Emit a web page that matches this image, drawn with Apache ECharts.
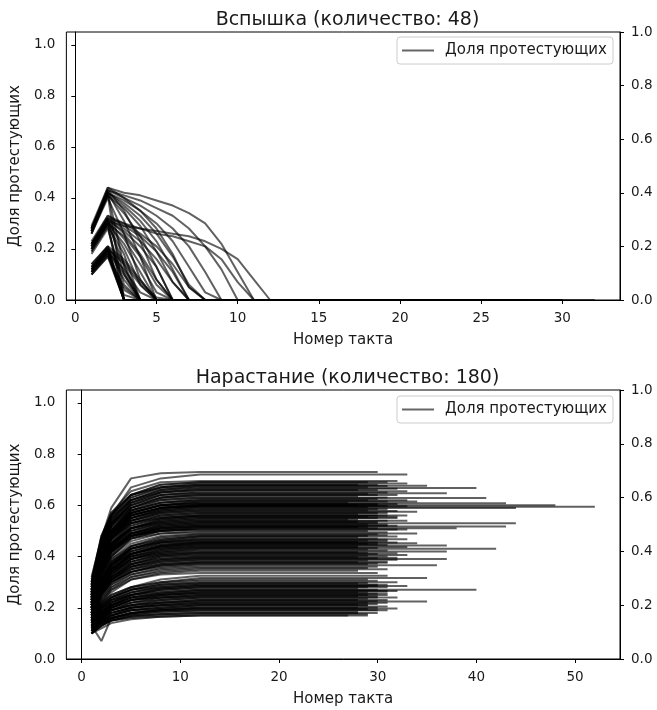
<!DOCTYPE html>
<html><head><meta charset="utf-8">
<script src="https://cdn.jsdelivr.net/npm/echarts@6/dist/echarts.min.js"></script>
<style>html,body{margin:0;padding:0;background:#fff}#c{width:657px;height:710px}</style>
</head><body><div id="c"></div>
<script>
const FONT = 'DejaVu Sans';
const seriesName = 'Доля протестующих';
const titleOutbreak = 'Вспышка (количество: 48)';
const titleGrowth = 'Нарастание (количество: 180)';
const xAxisName = 'Номер такта';
const yAxisName = 'Доля протестующих';
const yTicks = [0, 0.2, 0.4, 0.6, 0.8, 1.0];
const outbreakXTicks = [0, 5, 10, 15, 20, 25, 30];
const growthXTicks = [0, 10, 20, 30, 40, 50];

// Outbreak runs: share of protesters at steps 1,2,3,... until it reaches 0
const outbreakRuns = [
  [0.28,0.44,0.42,0.41,0.39,0.37,0.34,0.30,0.22,0.11,0],
  [0.28,0.43,0.41,0.39,0.36,0.33,0.28,0.21,0.12,0],
  [0.27,0.43,0.40,0.37,0.33,0.28,0.21,0.11,0],
  [0.28,0.42,0.39,0.35,0.30,0.23,0.13,0.03,0],
  [0.27,0.42,0.38,0.33,0.26,0.17,0.06,0],
  [0.26,0.42,0.37,0.31,0.23,0.12,0],
  [0.27,0.41,0.36,0.29,0.19,0.07,0],
  [0.26,0.41,0.34,0.25,0.13,0],
  [0.28,0.43,0.35,0.23,0.08,0],
  [0.27,0.42,0.31,0.17,0],
  [0.26,0.40,0.26,0.08,0],
  [0.28,0.42,0.13,0],
  [0.27,0.41,0],
  [0.29,0.44,0.40,0.35,0.28,0.18,0.05,0],
  [0.21,0.31,0.29,0.28,0.27,0.26,0.25,0.23,0.20,0.16,0.08,0],
  [0.22,0.32,0.30,0.28,0.26,0.25,0.23,0.21,0.16,0.07,0],
  [0.22,0.33,0.30,0.26,0.21,0.14,0.05,0],
  [0.21,0.32,0.28,0.23,0.16,0.07,0],
  [0.20,0.31,0.27,0.21,0.13,0],
  [0.21,0.32,0.26,0.18,0.08,0],
  [0.22,0.31,0.24,0.14,0.03,0],
  [0.20,0.30,0.22,0.11,0],
  [0.21,0.31,0.20,0.06,0],
  [0.19,0.29,0.18,0],
  [0.20,0.30,0.14,0],
  [0.22,0.32,0.10,0],
  [0.19,0.29,0],
  [0.21,0.30,0],
  [0.18,0.28,0.06,0],
  [0.23,0.33,0.29,0.25,0.19,0.11,0],
  [0.20,0.30,0.25,0.17,0.06,0],
  [0.12,0.20,0.14,0.06,0],
  [0.11,0.19,0.10,0],
  [0.13,0.20,0.08,0],
  [0.12,0.19,0.04,0],
  [0.10,0.18,0],
  [0.11,0.18,0],
  [0.12,0.19,0],
  [0.13,0.20,0],
  [0.14,0.21,0],
  [0.10,0.17,0],
  [0.11,0.19,0.12,0.03,0],
  [0.13,0.21,0.16,0.08,0],
  [0.12,0.20,0],
  [0.14,0.21,0.11,0],
  [0.11,0.18,0.02,0],
  [0.12,0.20,0.15,0.07,0.01,0],
  [0.10,0.17,0.05,0]
];
// last step of each outbreak run
const outbreakEnds = [28,24,30,22,26,19,27,21,25,18,23,16,20,29,32,27,25,22,28,17,24,20,26,15,21,19,14,23,18,30,22,
  20,16,25,13,12,18,22,15,27,11,19,24,17,21,14,26,13];

// Growth runs: share at steps listed in growthSteps; then flat until the last step
const growthSteps = [1, 2, 3, 5, 8, 12];
const growthRuns = [
  [0.32,0.47,0.59,0.705,0.725,0.73],
  [0.29,0.45,0.56,0.67,0.705,0.72],
  [0.30,0.47,0.57,0.655,0.69,0.695],
  [0.30,0.48,0.57,0.64,0.68,0.69],
  [0.27,0.46,0.56,0.64,0.68,0.69],
  [0.29,0.47,0.56,0.64,0.67,0.685],
  [0.26,0.45,0.55,0.63,0.67,0.68],
  [0.31,0.48,0.56,0.64,0.67,0.68],
  [0.28,0.46,0.55,0.63,0.665,0.676],
  [0.25,0.44,0.54,0.62,0.66,0.675],
  [0.27,0.45,0.54,0.62,0.66,0.67],
  [0.29,0.46,0.55,0.62,0.655,0.667],
  [0.24,0.43,0.53,0.61,0.65,0.665],
  [0.26,0.44,0.53,0.61,0.65,0.66],
  [0.30,0.46,0.54,0.62,0.65,0.66],
  [0.23,0.42,0.52,0.61,0.64,0.655],
  [0.27,0.44,0.53,0.60,0.64,0.65],
  [0.28,0.45,0.53,0.60,0.64,0.647],
  [0.25,0.43,0.52,0.59,0.63,0.645],
  [0.22,0.41,0.50,0.59,0.63,0.64],
  [0.29,0.45,0.53,0.60,0.63,0.64],
  [0.26,0.43,0.52,0.59,0.625,0.635],
  [0.24,0.42,0.51,0.58,0.62,0.63],
  [0.27,0.43,0.52,0.59,0.62,0.628],
  [0.23,0.41,0.50,0.58,0.61,0.625],
  [0.25,0.42,0.50,0.58,0.61,0.62],
  [0.28,0.43,0.51,0.58,0.61,0.62],
  [0.22,0.40,0.49,0.57,0.60,0.615],
  [0.26,0.42,0.50,0.57,0.60,0.61],
  [0.24,0.41,0.49,0.57,0.60,0.608],
  [0.21,0.39,0.47,0.56,0.59,0.605],
  [0.25,0.41,0.49,0.56,0.59,0.60],
  [0.27,0.42,0.49,0.56,0.59,0.60],
  [0.23,0.40,0.48,0.56,0.59,0.60],
  [0.26,0.41,0.49,0.56,0.59,0.598],
  [0.22,0.39,0.47,0.55,0.585,0.596],
  [0.24,0.40,0.48,0.55,0.585,0.594],
  [0.20,0.38,0.47,0.55,0.58,0.592],
  [0.25,0.40,0.48,0.55,0.58,0.589],
  [0.28,0.43,0.50,0.57,0.60,0.605],
  [0.21,0.40,0.49,0.57,0.60,0.615],
  [0.24,0.40,0.47,0.54,0.575,0.585],
  [0.22,0.38,0.46,0.54,0.57,0.58],
  [0.26,0.40,0.48,0.54,0.57,0.578],
  [0.23,0.39,0.47,0.54,0.565,0.575],
  [0.20,0.37,0.45,0.53,0.56,0.57],
  [0.25,0.39,0.47,0.53,0.555,0.565],
  [0.21,0.37,0.45,0.52,0.55,0.56],
  [0.27,0.40,0.47,0.53,0.55,0.56],
  [0.19,0.35,0.44,0.51,0.545,0.555],
  [0.23,0.37,0.45,0.51,0.54,0.55],
  [0.25,0.38,0.45,0.51,0.54,0.55],
  [0.20,0.36,0.43,0.50,0.535,0.545],
  [0.22,0.36,0.44,0.50,0.53,0.54],
  [0.26,0.39,0.45,0.51,0.53,0.54],
  [0.18,0.34,0.42,0.49,0.525,0.535],
  [0.23,0.37,0.43,0.49,0.52,0.53],
  [0.21,0.35,0.43,0.49,0.52,0.53],
  [0.24,0.37,0.43,0.49,0.515,0.525],
  [0.19,0.34,0.41,0.48,0.51,0.52],
  [0.22,0.36,0.42,0.48,0.51,0.52],
  [0.25,0.37,0.43,0.49,0.51,0.517],
  [0.20,0.34,0.41,0.48,0.505,0.515],
  [0.23,0.36,0.42,0.48,0.50,0.51],
  [0.18,0.33,0.40,0.47,0.50,0.51],
  [0.21,0.34,0.40,0.47,0.50,0.505],
  [0.24,0.36,0.42,0.47,0.49,0.50],
  [0.19,0.33,0.40,0.46,0.49,0.495],
  [0.27,0.41,0.49,0.55,0.575,0.585],
  [0.24,0.39,0.46,0.53,0.56,0.57],
  [0.20,0.36,0.44,0.51,0.545,0.555],
  [0.23,0.37,0.44,0.51,0.535,0.545],
  [0.25,0.38,0.44,0.50,0.525,0.535],
  [0.20,0.35,0.42,0.48,0.515,0.525],
  [0.22,0.35,0.42,0.48,0.505,0.515],
  [0.26,0.37,0.43,0.48,0.50,0.505],
  [0.21,0.37,0.45,0.52,0.55,0.56],
  [0.22,0.33,0.39,0.45,0.48,0.49],
  [0.19,0.31,0.38,0.44,0.475,0.487],
  [0.24,0.34,0.39,0.44,0.47,0.483],
  [0.20,0.31,0.37,0.44,0.465,0.48],
  [0.17,0.29,0.36,0.43,0.465,0.478],
  [0.22,0.32,0.38,0.43,0.46,0.475],
  [0.21,0.31,0.37,0.43,0.46,0.47],
  [0.18,0.30,0.36,0.42,0.455,0.467],
  [0.23,0.33,0.38,0.43,0.455,0.463],
  [0.16,0.28,0.35,0.41,0.445,0.46],
  [0.20,0.30,0.36,0.42,0.45,0.457],
  [0.22,0.31,0.37,0.42,0.445,0.455],
  [0.19,0.30,0.35,0.41,0.44,0.452],
  [0.17,0.28,0.34,0.41,0.435,0.448],
  [0.21,0.31,0.36,0.41,0.44,0.45],
  [0.18,0.29,0.34,0.40,0.43,0.445],
  [0.23,0.32,0.37,0.41,0.435,0.443],
  [0.15,0.27,0.33,0.39,0.425,0.44],
  [0.20,0.30,0.35,0.40,0.43,0.437],
  [0.18,0.28,0.34,0.39,0.42,0.433],
  [0.22,0.30,0.35,0.40,0.42,0.43],
  [0.16,0.27,0.33,0.39,0.415,0.427],
  [0.19,0.28,0.34,0.39,0.415,0.424],
  [0.21,0.29,0.34,0.39,0.41,0.42],
  [0.17,0.27,0.33,0.38,0.41,0.417],
  [0.20,0.29,0.33,0.38,0.405,0.413],
  [0.15,0.25,0.31,0.37,0.40,0.41],
  [0.18,0.27,0.32,0.37,0.40,0.406],
  [0.21,0.28,0.32,0.37,0.395,0.403],
  [0.16,0.26,0.31,0.36,0.39,0.40],
  [0.19,0.27,0.32,0.37,0.39,0.397],
  [0.17,0.26,0.31,0.36,0.385,0.393],
  [0.20,0.28,0.32,0.36,0.38,0.39],
  [0.15,0.25,0.30,0.35,0.38,0.387],
  [0.18,0.26,0.31,0.35,0.375,0.384],
  [0.16,0.25,0.30,0.34,0.37,0.38],
  [0.19,0.27,0.31,0.35,0.37,0.378],
  [0.17,0.25,0.30,0.34,0.365,0.376],
  [0.14,0.24,0.29,0.34,0.365,0.373],
  [0.18,0.26,0.30,0.34,0.36,0.37],
  [0.21,0.32,0.37,0.43,0.455,0.465],
  [0.18,0.29,0.35,0.41,0.44,0.455],
  [0.20,0.29,0.35,0.40,0.425,0.435],
  [0.17,0.27,0.32,0.38,0.405,0.415],
  [0.16,0.26,0.31,0.36,0.385,0.395],
  [0.15,0.23,0.28,0.33,0.355,0.366],
  [0.17,0.24,0.29,0.33,0.35,0.36],
  [0.14,0.22,0.27,0.32,0.345,0.355],
  [0.16,0.23,0.28,0.32,0.34,0.35],
  [0.13,0.21,0.26,0.31,0.335,0.344],
  [0.15,0.22,0.27,0.31,0.33,0.336],
  [0.16,0.21,0.25,0.28,0.31,0.325],
  [0.14,0.20,0.24,0.28,0.30,0.316],
  [0.17,0.22,0.25,0.28,0.30,0.31],
  [0.15,0.20,0.24,0.27,0.295,0.305],
  [0.13,0.19,0.23,0.27,0.29,0.30],
  [0.16,0.21,0.24,0.27,0.29,0.297],
  [0.12,0.18,0.22,0.26,0.285,0.295],
  [0.14,0.19,0.23,0.26,0.28,0.29],
  [0.17,0.21,0.24,0.27,0.28,0.29],
  [0.13,0.18,0.22,0.25,0.275,0.285],
  [0.15,0.20,0.23,0.25,0.27,0.28],
  [0.11,0.17,0.21,0.25,0.27,0.28],
  [0.14,0.19,0.22,0.25,0.265,0.275],
  [0.12,0.17,0.21,0.24,0.26,0.27],
  [0.16,0.20,0.22,0.25,0.26,0.27],
  [0.13,0.18,0.21,0.24,0.255,0.265],
  [0.11,0.16,0.20,0.23,0.25,0.26],
  [0.15,0.19,0.21,0.24,0.25,0.26],
  [0.12,0.17,0.20,0.23,0.25,0.257],
  [0.14,0.18,0.21,0.23,0.245,0.255],
  [0.10,0.15,0.19,0.22,0.24,0.25],
  [0.13,0.17,0.20,0.23,0.24,0.25],
  [0.15,0.18,0.20,0.23,0.24,0.245],
  [0.11,0.16,0.19,0.21,0.23,0.24],
  [0.14,0.17,0.20,0.22,0.23,0.24],
  [0.12,0.16,0.19,0.21,0.225,0.235],
  [0.10,0.15,0.18,0.20,0.22,0.23],
  [0.13,0.17,0.19,0.21,0.22,0.23],
  [0.11,0.15,0.18,0.20,0.215,0.225],
  [0.14,0.17,0.19,0.21,0.22,0.224],
  [0.12,0.16,0.18,0.20,0.21,0.22],
  [0.10,0.14,0.17,0.20,0.21,0.22],
  [0.13,0.16,0.18,0.20,0.21,0.215],
  [0.11,0.15,0.17,0.19,0.205,0.213],
  [0.12,0.15,0.17,0.19,0.20,0.21],
  [0.10,0.14,0.16,0.18,0.195,0.205],
  [0.11,0.14,0.16,0.18,0.19,0.20],
  [0.13,0.15,0.17,0.19,0.195,0.20],
  [0.10,0.13,0.16,0.18,0.19,0.197],
  [0.12,0.15,0.16,0.18,0.19,0.195],
  [0.11,0.14,0.16,0.175,0.185,0.19],
  [0.13,0.07,0.16,0.175,0.185,0.19],
  [0.10,0.13,0.15,0.17,0.18,0.185],
  [0.12,0.14,0.155,0.17,0.175,0.18],
  [0.10,0.13,0.15,0.165,0.175,0.18],
  [0.11,0.13,0.15,0.165,0.17,0.175],
  [0.10,0.12,0.14,0.155,0.165,0.17],
  [0.12,0.14,0.15,0.16,0.165,0.17],
  [0.15,0.20,0.23,0.26,0.275,0.285],
  [0.13,0.18,0.21,0.24,0.255,0.265],
  [0.12,0.16,0.19,0.22,0.235,0.245],
  [0.11,0.15,0.17,0.19,0.20,0.21]
];
const growthEnds = [
  30,33,32,
  31,29,33,30,28,35,31,29,40,32,30,28,33,31,37,29,30,32,28,31,41,30,33,29,31,27,43,32,48,30,28,31,33,52,29,44,30,34,
  31,29,32,34,30,28,33,31,29,30,32,27,31,33,28,44,30,29,32,31,43,28,38,30,33,29,31,30,31,32,28,30,31,29,32,30,
  34,30,31,29,32,28,30,33,29,31,28,32,34,30,29,31,37,28,33,30,42,29,31,37,28,32,30,33,29,31,28,30,37,32,29,31,28,31,30,29,31,30,28,29,32,
  36,30,29,31,28,30,
  31,35,29,30,32,29,28,31,30,33,29,31,28,40,30,32,29,28,31,30,31,29,28,32,30,29,31,28,30,35,29,31,30,28,29,31,30,28,32,29,30,31,28,28,30,29,29,27,30,31,30,29
];

const lineColor = 'rgba(0,0,0,0.62)';
const txt = '#1a1a1a';

function runSeries(points, xi) {
  return {
    type: 'line', name: seriesName, xAxisIndex: xi, yAxisIndex: xi * 2,
    data: points, symbol: 'none', showSymbol: false, silent: true,
    lineStyle: { color: lineColor, width: 2 }, itemStyle: { color: lineColor },
    animation: false, clip: true
  };
}

const series = [];
outbreakRuns.forEach((run, i) => {
  const pts = run.map((v, k) => [k + 1, v]);
  if (outbreakEnds[i] > run.length) pts.push([outbreakEnds[i], run[run.length - 1]]);
  series.push(runSeries(pts, 0));
});
growthRuns.forEach((row, i) => {
  const pts = row.map((v, k) => [growthSteps[k], v]);
  pts.push([growthEnds[i], row[row.length - 1]]);
  series.push(runSeries(pts, 1));
});

function xAxis(gi, min, max, ticks) {
  return {
    type: 'value', gridIndex: gi, min: min, max: max,
    name: xAxisName, nameLocation: 'middle', nameGap: 33,
    nameTextStyle: { fontFamily: FONT, fontSize: 15, color: txt },
    axisLine: { show: true, onZero: false, lineStyle: { color: '#000', width: 1 } },
    axisTick: { show: true, length: 4, customValues: ticks, lineStyle: { color: '#000' } },
    axisLabel: { customValues: ticks, margin: 11, fontFamily: FONT, fontSize: 13.5, color: txt },
    splitLine: { show: false }
  };
}
function yAxisL(gi) {
  return {
    type: 'value', gridIndex: gi, min: 0, max: 1.05, position: 'left',
    name: yAxisName, nameLocation: 'middle', nameGap: 41,
    nameTextStyle: { fontFamily: FONT, fontSize: 15, color: txt },
    axisLine: { show: true, lineStyle: { color: '#000', width: 1 } },
    axisTick: { show: true, length: 4, customValues: yTicks, lineStyle: { color: '#000' } },
    axisLabel: { customValues: yTicks, margin: 11, fontFamily: FONT, fontSize: 13.5, color: txt,
      formatter: v => v.toFixed(1) },
    splitLine: { show: false }
  };
}
function yAxisR(gi) {
  return {
    type: 'value', gridIndex: gi, min: 0, max: 1.0, position: 'right',
    axisLine: { show: true, lineStyle: { color: '#000', width: 1 } },
    axisTick: { show: true, length: 4, customValues: yTicks, lineStyle: { color: '#000' } },
    axisLabel: { customValues: yTicks, margin: 11, fontFamily: FONT, fontSize: 13.5, color: txt,
      formatter: v => v.toFixed(1) },
    splitLine: { show: false }
  };
}
function legend(top) {
  return {
    data: [{ name: seriesName, icon: 'rect', itemStyle: { color: 'rgba(0,0,0,0.6)' } }],
    right: 44, top: top, orient: 'horizontal',
    backgroundColor: 'rgba(255,255,255,0.85)', borderColor: '#cccccc', borderWidth: 1, borderRadius: 3,
    padding: [6, 6, 6, 5], itemWidth: 32, itemHeight: 2,
    textStyle: { fontFamily: FONT, fontSize: 15, color: txt, padding: [0, 0, 0, 6] }
  };
}

const chart = echarts.init(document.getElementById('c'), null, { renderer: 'canvas' });
chart.setOption({
  animation: false,
  backgroundColor: '#fff',
  title: [
    { text: titleOutbreak, left: 342.5, textAlign: 'center', top: 6,
      textStyle: { fontFamily: FONT, fontSize: 19, fontWeight: 'normal', color: txt } },
    { text: titleGrowth, left: 342.5, textAlign: 'center', top: 364,
      textStyle: { fontFamily: FONT, fontSize: 19, fontWeight: 'normal', color: txt } }
  ],
  legend: [legend(37), legend(396)],
  grid: [
    { left: 65, right: 37, top: 32, height: 268, show: true, borderColor: '#000', borderWidth: 1, containLabel: false },
    { left: 65, right: 37, top: 390, height: 269, show: true, borderColor: '#000', borderWidth: 1, containLabel: false }
  ],
  xAxis: [xAxis(0, -0.55, 33.55, outbreakXTicks), xAxis(1, -1.55, 54.55, growthXTicks)],
  yAxis: [yAxisL(0), yAxisR(0), yAxisL(1), yAxisR(1)],
  series: series
});
</script></body></html>
